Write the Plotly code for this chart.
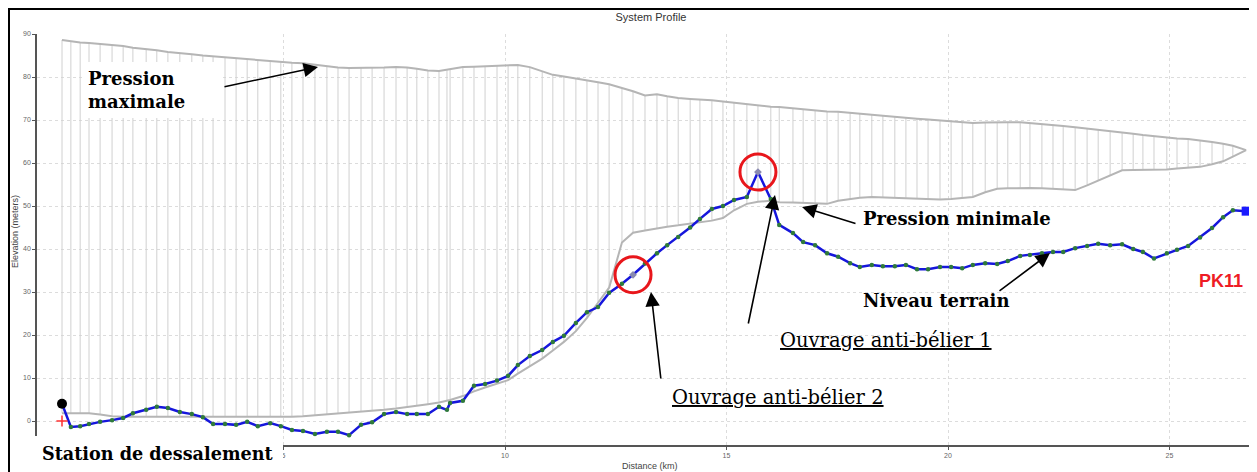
import plotly.graph_objects as go

# ---------------- data ----------------
distance_km = [0.00, 0.20, 0.41, 0.61, 0.86, 1.13, 1.38, 1.60, 1.90, 2.14, 2.39, 2.66, 2.93, 3.18, 3.41,
               3.68, 3.93, 4.18, 4.42, 4.70, 4.94, 5.19, 5.44, 5.71, 5.98, 6.23, 6.48, 6.75, 7.00, 7.27,
               7.54, 7.79, 8.01, 8.26, 8.51, 8.69, 8.76, 9.05, 9.30, 9.55, 9.82, 10.07, 10.29, 10.56, 10.84,
               11.08, 11.33, 11.60, 11.85, 12.10, 12.35, 12.64, 12.89, 13.16, 13.43, 13.66, 13.91, 14.18, 14.40,
               14.67, 14.92, 15.17, 15.46, 15.71, 16.00, 16.19, 16.50, 16.73, 17.00, 17.27, 17.52, 17.79, 18.01,
               18.28, 18.53, 18.80, 19.05, 19.30, 19.55, 19.82, 20.07, 20.32, 20.56, 20.84, 21.11, 21.35, 21.63,
               21.85, 22.12, 22.37, 22.60, 22.87, 23.14, 23.39, 23.66, 23.93, 24.18, 24.40, 24.65, 24.94, 25.17,
               25.42, 25.69, 25.96, 26.21, 26.43, 26.73]

ground_m = [4.0, -1.4, -1.2, -0.7, -0.2, 0.2, 0.7, 1.8, 2.6, 3.3, 3.0, 2.1, 1.6, 0.9, -0.7,
            -0.7, -0.9, -0.2, -1.2, -0.5, -1.2, -2.1, -2.3, -3.0, -2.5, -2.5, -3.3, -0.9, -0.3, 1.6,
            2.1, 1.6, 1.6, 1.6, 3.3, 2.6, 4.2, 4.7, 8.2, 8.6, 9.4, 10.5, 13.0, 15.1, 16.5,
            18.4, 19.8, 22.8, 25.3, 26.5, 29.8, 31.9, 34.0, 36.6, 39.0, 40.9, 42.8, 45.0, 47.0,
            49.3, 50.0, 51.4, 52.1, 57.9, 51.6, 45.6, 43.7, 41.6, 40.9, 39.0, 38.2, 36.7, 35.8,
            36.3, 36.0, 36.0, 36.3, 35.3, 35.3, 35.8, 35.8, 35.5, 36.3, 36.7, 36.5, 37.2, 38.4,
            38.6, 39.0, 39.3, 39.3, 40.2, 40.7, 41.2, 40.9, 41.1, 40.0, 39.3, 37.8, 39.0, 39.8,
            40.7, 42.7, 44.9, 47.4, 49.0, 48.8]

head_max_m = [88.6, 88.3, 88.0, 87.9, 87.7, 87.4, 87.2, 86.8, 86.5, 86.2, 85.8, 85.6, 85.3, 85.0, 84.8,
              84.6, 84.3, 84.1, 83.9, 83.6, 83.5, 83.3, 83.2, 82.9, 82.5, 82.2, 82.1, 82.1, 82.1, 82.2,
              82.3, 82.2, 81.9, 81.5, 81.4, 81.7, 81.9, 82.3, 82.4, 82.5, 82.6, 82.7, 82.8, 82.3, 81.4,
              80.5, 80.1, 79.7, 79.3, 78.8, 78.3, 77.5, 76.7, 75.7, 76.0, 75.5, 75.1, 74.9, 74.8,
              74.6, 74.3, 74.0, 73.6, 73.4, 73.1, 73.0, 72.7, 72.4, 72.2, 72.0, 71.9, 71.6, 71.4,
              71.2, 71.0, 70.7, 70.5, 70.3, 70.1, 69.9, 69.7, 69.4, 69.3, 69.4, 69.5, 69.5, 69.5,
              69.3, 69.2, 68.9, 68.6, 68.3, 68.0, 67.7, 67.4, 67.2, 66.8, 66.5, 66.2, 66.0, 65.7,
              65.6, 65.3, 64.9, 64.5, 64.0, 63.0]

head_min_m = [1.8, 1.8, 1.8, 1.8, 1.5, 1.1, 1.0, 1.0, 1.0, 0.9, 0.9, 0.9, 0.9, 0.9, 0.9,
              0.9, 0.9, 0.9, 0.9, 0.9, 1.0, 1.0, 1.1, 1.3, 1.5, 1.7, 1.9, 2.1, 2.3, 2.6,
              2.9, 3.2, 3.5, 3.9, 4.3, 4.7, 4.9, 5.8, 6.9, 7.8, 8.6, 9.5, 11.0, 12.7, 14.5,
              16.4, 18.4, 20.9, 24.0, 27.5, 31.0, 41.5, 43.8, 44.3, 44.8, 45.2, 45.5, 45.9, 46.2,
              46.6, 47.2, 49.0, 50.5, 51.0, 51.2, 50.9, 50.8, 50.7, 50.5, 50.5, 51.2, 51.6, 51.9,
              52.1, 52.0, 51.9, 51.9, 51.7, 51.6, 51.5, 51.6, 51.9, 52.1, 53.2, 54.0, 54.1, 54.2,
              54.2, 54.1, 54.0, 53.8, 53.7, 54.8, 55.9, 57.2, 58.3, 58.4, 58.4, 58.4, 58.5, 58.7,
              58.9, 59.1, 59.7, 60.4, 61.5, 63.0]

surge_node_index = [63, 52]          # Ouvrage anti-bélier 1, Ouvrage anti-bélier 2
station_datum = (0.0, 0.0)           # red cross at the desalination plant
x_ticks = [5, 10, 15, 20, 25]
y_ticks = [0, 10, 20, 30, 40, 50, 60, 70, 80, 90]

# ---------------- geometry helpers (layout only) ----------------
# pixel positions below are in screenshot space; the page body adds an 8 px offset
OFF = 8
W, H = 1257 - OFF, 472 - OFF
PL, PR, PT, PB = 37, 1257, 34, 445          # plot area in screenshot pixels
X0PX, KMPX = 62.0, 44.3                     # pixel of 0 km, pixels per km
Y0PX, MPX = 421.0, 4.3                      # pixel of 0 m, pixels per metre
XR = [(PL - X0PX) / KMPX, (PR - X0PX) / KMPX]
YR = [(Y0PX - PB) / MPX, (Y0PX - PT) / MPX]


def px(p):
    return (p - PL) / (PR - PL)


def py(p):
    return (PB - p) / (PB - PT)


fig = go.Figure()

# vertical hatching between min and max pressure envelopes
hx, hy = [], []
for d, lo, hi in zip(distance_km, head_min_m, head_max_m):
    hx += [d, d, None]
    hy += [lo, hi, None]
fig.add_trace(go.Scatter(x=hx, y=hy, mode="lines",
                         line=dict(color="#d0d0d0", width=1), hoverinfo="skip"))

fig.add_trace(go.Scatter(x=distance_km, y=head_max_m, mode="lines",
                         line=dict(color="#b5b5b5", width=2), name="Pression maximale"))
fig.add_trace(go.Scatter(x=distance_km, y=head_min_m, mode="lines",
                         line=dict(color="#b5b5b5", width=2), name="Pression minimale"))

# ground profile
fig.add_trace(go.Scatter(x=distance_km, y=ground_m, mode="lines",
                         line=dict(color="#1616dc", width=2.5), name="Niveau terrain"))
fig.add_trace(go.Scatter(x=distance_km[1:-1], y=ground_m[1:-1], mode="markers",
                         marker=dict(color="#2f7a3a", size=4.5), hoverinfo="skip"))
fig.add_trace(go.Scatter(x=[distance_km[i] for i in surge_node_index],
                         y=[ground_m[i] for i in surge_node_index], mode="markers",
                         marker=dict(color="#8a8ab0", size=6, symbol="diamond"), hoverinfo="skip"))

# end nodes
fig.add_trace(go.Scatter(x=[distance_km[0]], y=[ground_m[0]], mode="markers",
                         marker=dict(color="black", size=10)))
fig.add_trace(go.Scatter(x=[distance_km[-1]], y=[ground_m[-1]], mode="markers",
                         marker=dict(color="#1a1aff", size=9, symbol="square")))
fig.add_trace(go.Scatter(x=[station_datum[0]], y=[station_datum[1]], mode="markers",
                         marker=dict(color="#ff3030", size=8, symbol="cross-thin",
                                     line=dict(color="#ff3030", width=1.5))))

# red circles around the surge protection devices
fig.add_trace(go.Scatter(x=[distance_km[i] for i in surge_node_index],
                         y=[ground_m[i] for i in surge_node_index], mode="markers",
                         marker=dict(size=36, symbol="circle-open", color="#e8161b",
                                     line=dict(color="#e8161b", width=3))))

SERIF = "DejaVu Serif"
SANS = "Liberation Sans"

shapes = [
    # outer frame
    dict(type="rect", xref="paper", yref="paper", x0=px(9), x1=px(1270),
         y0=py(490), y1=py(9), line=dict(color="black", width=2), layer="above"),
    # white label boxes
    dict(type="rect", xref="paper", yref="paper", x0=px(85), x1=px(222),
         y0=py(118), y1=py(62), fillcolor="white", line=dict(width=0), layer="above"),
    dict(type="rect", xref="paper", yref="paper", x0=px(10), x1=px(283),
         y0=py(490), y1=py(436), fillcolor="white", line=dict(width=0), layer="above"),
]

ann = []
bold = dict(family=SERIF, size=18, color="black")
reg = dict(family=SERIF, size=19.5, color="black")


def label(x, y, text, font, xanchor="left", align="left"):
    ann.append(dict(xref="paper", yref="paper", x=px(x), y=py(y), text=text, showarrow=False,
                    xanchor=xanchor, yanchor="middle", align=align, font=font))


label(86, 90, "<b>Pression<br>maximale</b>", bold)
label(40, 453, "<b>Station de dessalement</b>", dict(family=SERIF, size=17.6, color="black"))
label(861, 218, "<b>Pression minimale</b>", bold)
label(861, 300, "<b>Niveau terrain</b>", bold)
label(778, 340, "<u>Ouvrage anti-bélier 1</u>", reg)
label(670, 397, "<u>Ouvrage anti-bélier 2</u>", reg)
label(1221, 281, "<b>PK11</b>", dict(family=SANS, size=18, color="#ee1c25"), xanchor="center")

# arrows: (tip_x, tip_y, tail_x, tail_y) in screenshot pixels
arrows = [(318, 67, 223, 87), (802, 207, 857, 224), (1050, 253, 998, 292),
          (775, 195, 748, 325), (651, 292, 661, 380)]
for tx, ty, sx, sy in arrows:
    ann.append(dict(xref="paper", yref="paper", x=px(tx), y=py(ty), ax=sx - tx, ay=sy - ty,
                    text="", showarrow=True, arrowhead=2, arrowsize=1.8, arrowwidth=1.6,
                    arrowcolor="black", standoff=0))

# axis titles
ann.append(dict(xref="paper", yref="paper", x=px(15), y=py(232), text="Elevation (meters)",
                showarrow=False, textangle=-90, xanchor="center", yanchor="middle",
                font=dict(family=SANS, size=9, color="#444")))
ann.append(dict(xref="paper", yref="paper", x=px(650), y=py(466), text="Distance (km)",
                showarrow=False, xanchor="center", yanchor="middle",
                font=dict(family=SANS, size=9, color="#444")))

fig.update_layout(
    width=W, height=H,
    margin=dict(l=PL - OFF, r=0, t=PT - OFF, b=H - (PB - OFF), pad=0),
    paper_bgcolor="white", plot_bgcolor="white",
    showlegend=False,
    title=dict(text="System Profile", x=(651 - OFF) / W, xref="container",
               y=1 - (17 - OFF) / H, yref="container", xanchor="center", yanchor="middle",
               font=dict(family=SANS, size=11, color="#333")),
    shapes=shapes, annotations=ann,
    xaxis=dict(range=XR, tickvals=x_ticks, showgrid=True, gridcolor="#dcdcdc", griddash="dot",
               zeroline=False, showline=True, linecolor="#555", linewidth=1.5,
               ticks="outside", ticklen=3, tickcolor="#555",
               tickfont=dict(family=SANS, size=7, color="#666")),
    yaxis=dict(range=YR, tickvals=y_ticks, showgrid=True, gridcolor="#dcdcdc", griddash="dot",
               zeroline=False, showline=True, linecolor="#555", linewidth=1.5,
               ticks="outside", ticklen=3, tickcolor="#555",
               tickfont=dict(family=SANS, size=7, color="#666")),
)

fig.write_html("out.html")
